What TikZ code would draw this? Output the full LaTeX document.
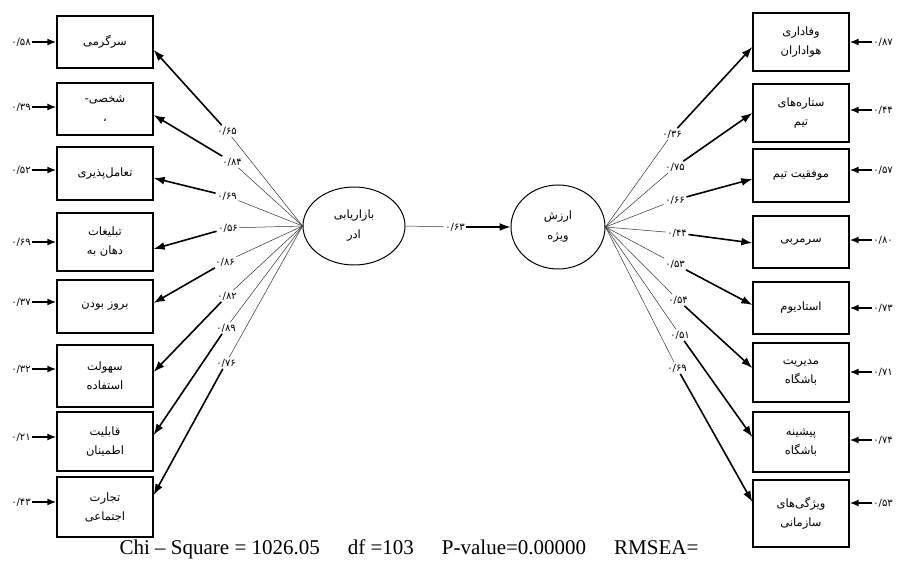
\documentclass[tikz,border=0pt]{standalone}
\usepackage{fontspec}
\setmainfont{Liberation Serif}
\newfontfamily\arabicfont[Script=Arabic]{DejaVu Sans}
\TeXXeTstate=1
\usetikzlibrary{arrows.meta,shapes.geometric}
\newcommand\fa[1]{{\arabicfont\beginR #1\endR}}
\newcommand\fn[1]{{\arabicfont #1}}
\begin{document}
\begin{tikzpicture}[x=1pt,y=-1pt,
  obox/.style={draw,line width=1.3pt,minimum width=96pt,inner sep=1pt,align=center,font=\fontsize{11.5}{19}\selectfont},
  lat/.style={draw,line width=1pt,ellipse,inner sep=0pt,align=center,font=\fontsize{11.5}{20}\selectfont},
  lab/.style={inner sep=1.5pt,font=\fontsize{10}{11}\selectfont},
  thin/.style={line width=0.5pt,draw=black!80},
  thick/.style={line width=1.6pt,-{Latex[length=11pt,width=8pt]}},
  earrow/.style={line width=1.6pt,-{Latex[length=9pt,width=7pt]}}]
\useasboundingbox (0,0) rectangle (900,569);
% left boxes
\node[obox,minimum height=52pt] (L1) at (105,42) {\fa{سرگرمی}};
\node[obox,minimum height=52pt] (L2) at (105,109) {\fa{شخصی-}\\\fa{،}};
\node[obox,minimum height=53pt] (L3) at (105,173.5) {\fa{تعامل‌پذیری}};
\node[obox,minimum height=58pt] (L4) at (105,242) {\fa{تبلیغات}\\\fa{دهان به}};
\node[obox,minimum height=53pt] (L5) at (105,306.5) {\fa{بروز بودن}};
\node[obox,minimum height=62pt] (L6) at (105,376) {\fa{سهولت}\\\fa{استفاده}};
\node[obox,minimum height=59pt] (L7) at (105,441.5) {\fa{قابلیت}\\\fa{اطمینان}};
\node[obox,minimum height=60pt] (L8) at (105,507) {\fa{تجارت}\\\fa{اجتماعی}};
% right boxes
\node[obox,minimum height=58pt] (R1) at (801,42) {\fa{وفاداری}\\\fa{هواداران}};
\node[obox,minimum height=58pt] (R2) at (801,113) {\fa{ستاره‌های}\\\fa{تیم}};
\node[obox,minimum height=53pt] (R3) at (801,175.5) {\fa{موفقیت تیم}};
\node[obox,minimum height=52pt] (R4) at (801,242) {\fa{سرمربی}};
\node[obox,minimum height=52pt] (R5) at (801,308) {\fa{استادیوم}};
\node[obox,minimum height=59pt] (R6) at (801,372.5) {\fa{مدیریت}\\\fa{باشگاه}};
\node[obox,minimum height=60pt] (R7) at (801,442) {\fa{پیشینه}\\\fa{باشگاه}};
\node[obox,minimum height=67pt] (R8) at (801,513.5) {\fa{ویژگی‌های}\\\fa{سازمانی}};
% latent variables
\node[lat,minimum width=102pt,minimum height=78pt] (EL) at (354,226) {\fa{بازاریابی}\\\fa{ادر}};
\node[lat,minimum width=94pt,minimum height=84pt] (ER) at (558,227) {\fa{ارزش}\\\fa{ویژه}};
% middle path
\node[lab] (m) at (455,227) {\fn{۰/۶۳}};
\draw[thin] (EL.east) -- (m);
\draw[thick] (m) -- (ER.west);
% left loadings
\foreach \i/\x/\y/\v/\s in {1/227/131/{۰/۶۵}/-8,2/232/162/{۰/۸۴}/-6,3/227/196/{۰/۶۹}/-4.5,4/228/228/{۰/۵۶}/-7,5/225/262/{۰/۸۶}/3.5,6/227/296/{۰/۸۲}/4,7/226/328/{۰/۸۹}/6.5,8/226/363/{۰/۷۶}/12}{
  \node[lab] (a\i) at (\x,\y) {\fn{\v}};
  \draw[thin] (EL.west) -- (a\i);
  \draw[thick] (a\i) -- ([yshift=\s pt]L\i.east);
}
% right loadings
\foreach \i/\x/\y/\v/\s in {1/672/134/{۰/۳۶}/-5,2/675/167/{۰/۷۵}/0,3/675/200/{۰/۶۶}/-3.5,4/677/233/{۰/۴۴}/-1,5/675/264/{۰/۵۳}/3,6/678/300/{۰/۵۴}/4.5,7/680/335/{۰/۵۱}/5,8/677/368/{۰/۶۹}/11.5}{
  \node[lab] (b\i) at (\x,\y) {\fn{\v}};
  \draw[thin] (ER.east) -- (b\i);
  \draw[thick] (b\i) -- ([yshift=\s pt]R\i.west);
}
% left errors
\foreach \i/\y/\v in {1/42/{۰/۵۸},2/107/{۰/۳۹},3/170/{۰/۵۲},4/242/{۰/۶۹},5/302/{۰/۳۷},6/369/{۰/۳۲},7/437/{۰/۲۱},8/502/{۰/۴۳}}{
  \node[lab] (e\i) at (21,\y) {\fn{\v}};
  \draw[earrow] (e\i.east) -- (L\i.west |- e\i);
}
% right errors
\foreach \i/\y/\v in {1/42/{۰/۸۷},2/110/{۰/۴۴},3/170/{۰/۵۷},4/240/{۰/۸۰},5/308/{۰/۷۳},6/372/{۰/۷۱},7/440/{۰/۷۴},8/503/{۰/۵۳}}{
  \node[lab] (f\i) at (883,\y) {\fn{\v}};
  \draw[earrow] (f\i.west) -- (R\i.east |- f\i);
}
\node[font=\fontsize{21}{22}\selectfont] (fit) at (409,549) {Chi -- Square = 1026.05\hspace{28pt}df =103\hspace{28pt}P-value=0.00000\hspace{28pt}RMSEA=};
\end{tikzpicture}
\end{document}
